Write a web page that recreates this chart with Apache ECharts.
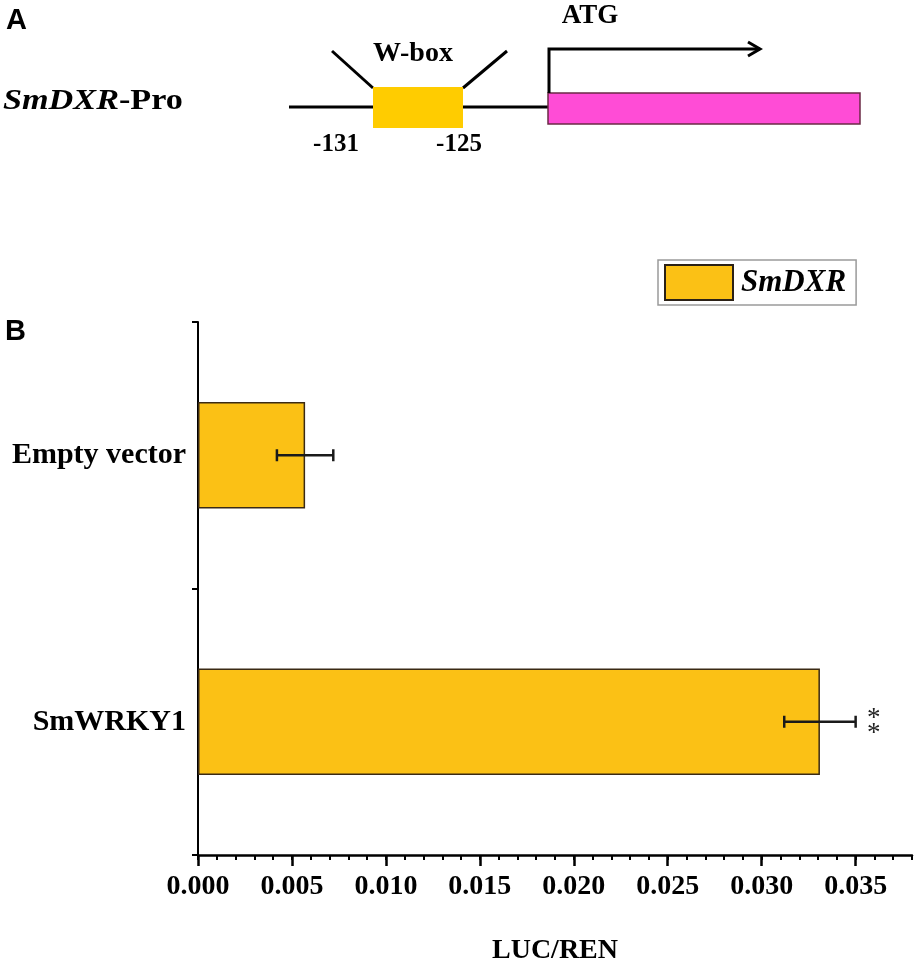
<!DOCTYPE html>
<html>
<head>
<meta charset="utf-8">
<script src="https://cdn.jsdelivr.net/npm/echarts@6/dist/echarts.min.js"></script>
<style>
  html, body { margin: 0; padding: 0; background: #fff; }
  #container { width: 919px; height: 970px; }
</style>
</head>
<body>
<div id="container"></div>
<script>
// data
var categories = ['Empty vector', 'SmWRKY1'];
var means = [0.0057, 0.0331];
var errors = [0.0015, 0.0019];
var signif = ['', '**'];
var xTicks = [0, 0.005, 0.010, 0.015, 0.020, 0.025, 0.030, 0.035];

var dom = document.getElementById('container');
var myChart = echarts.init(dom, null, { renderer: 'canvas' });

var serif = "'Liberation Serif', 'Times New Roman', serif";
var barColor = '#FBC115';

var errData = [];
for (var i = 0; i < categories.length; i++) {
    errData.push([i, means[i] - errors[i], means[i] + errors[i], signif[i]]);
}

function renderError(params, api) {
    var y = api.value(0);
    var lo = api.coord([api.value(1), y]);
    var hi = api.coord([api.value(2), y]);
    var cap = 6;
    var style = { stroke: '#1a1a1a', lineWidth: 2.5 };
    var children = [
        { type: 'line', shape: { x1: lo[0], y1: lo[1], x2: hi[0], y2: hi[1] }, style: style },
        { type: 'line', shape: { x1: lo[0], y1: lo[1] - cap, x2: lo[0], y2: lo[1] + cap }, style: style },
        { type: 'line', shape: { x1: hi[0], y1: hi[1] - cap, x2: hi[0], y2: hi[1] + cap }, style: style }
    ];
    var s = api.value(3);
    if (s) {
        children.push({
            type: 'text',
            x: hi[0] + 18,
            y: hi[1] + 5,
            style: {
                text: s.split('').join('\n'),
                font: "27px " + serif,
                fill: '#222',
                align: 'center',
                verticalAlign: 'middle',
                lineHeight: 15
            }
        });
    }
    return { type: 'group', children: children };
}

var option = {
    backgroundColor: '#ffffff',
    animation: false,
    grid: { left: 198, right: 7, top: 322, bottom: 102, containLabel: false },
    legend: {
        left: 658,
        top: 260,
        padding: [4, 10, 4, 6],
        borderColor: '#9a9a9a',
        borderWidth: 1.5,
        itemWidth: 68,
        itemHeight: 35,
        data: [{
            name: 'SmDXR',
            icon: 'rect',
            itemStyle: { color: barColor, borderColor: '#2b2116', borderWidth: 2 }
        }],
        textStyle: {
            fontFamily: serif,
            fontStyle: 'italic',
            fontWeight: 'bold',
            fontSize: 31,
            lineHeight: 35,
            color: '#000',
            padding: [0, 0, 0, 3]
        }
    },
    xAxis: [
        {
            type: 'value',
            min: 0,
            max: 0.038,
            position: 'bottom',
            splitLine: { show: false },
            axisLine: { show: true, lineStyle: { color: '#000', width: 2.5 } },
            axisTick: {
                show: true,
                length: 11,
                customValues: xTicks,
                lineStyle: { color: '#000', width: 2.5 }
            },
            axisLabel: {
                customValues: xTicks,
                formatter: function (v) { return v.toFixed(3); },
                fontFamily: serif,
                fontWeight: 'bold',
                fontSize: 28,
                color: '#000',
                margin: 18
            },
            name: 'LUC/REN',
            nameLocation: 'middle',
            nameGap: 82,
            nameTextStyle: {
                fontFamily: serif,
                fontWeight: 'bold',
                fontSize: 28,
                color: '#000'
            }
        },
        {
            type: 'value',
            min: 0,
            max: 0.038,
            interval: 0.001,
            position: 'bottom',
            splitLine: { show: false },
            axisLine: { show: false },
            axisTick: { show: true, length: 5, lineStyle: { color: '#000', width: 2 } },
            axisLabel: { show: false }
        }
    ],
    yAxis: {
        type: 'category',
        inverse: true,
        data: categories,
        axisLine: { show: true, lineStyle: { color: '#000', width: 2 } },
        axisTick: { show: true, length: 6, lineStyle: { color: '#000', width: 2 } },
        axisLabel: {
            fontFamily: serif,
            fontWeight: 'bold',
            fontSize: 30,
            color: '#000',
            margin: 12
        }
    },
    series: [
        {
            name: 'SmDXR',
            type: 'bar',
            barWidth: '40%',
            data: means,
            itemStyle: { color: barColor, borderColor: '#3b2a14', borderWidth: 1.5 }
        },
        {
            name: 'err',
            type: 'custom',
            renderItem: renderError,
            data: errData,
            encode: { x: [1, 2], y: 0 },
            z: 5
        }
    ],
    graphic: [
        { type: 'text', x: 6, y: 21, style: { text: 'A', font: "bold 29px 'Liberation Sans', Arial, sans-serif", fill: '#000', verticalAlign: 'middle' } },
        { type: 'text', x: 5, y: 332, style: { text: 'B', font: "bold 29px 'Liberation Sans', Arial, sans-serif", fill: '#000', verticalAlign: 'middle' } },
        {
            type: 'text', x: 3, y: 101, scaleX: 1.14,
            style: {
                text: '{i|SmDXR}{n|-Pro}',
                verticalAlign: 'middle',
                rich: {
                    i: { font: "italic bold 30px " + serif, fill: '#000' },
                    n: { font: "bold 30px " + serif, fill: '#000' }
                }
            }
        },
        { type: 'line', shape: { x1: 289, y1: 107, x2: 548, y2: 107 }, style: { stroke: '#000', lineWidth: 3 } },
        { type: 'line', shape: { x1: 332, y1: 51, x2: 373, y2: 88 }, style: { stroke: '#000', lineWidth: 3 } },
        { type: 'line', shape: { x1: 507, y1: 51, x2: 463, y2: 88 }, style: { stroke: '#000', lineWidth: 3 } },
        { type: 'rect', shape: { x: 373, y: 87, width: 90, height: 41 }, style: { fill: '#FFCC00' } },
        { type: 'rect', shape: { x: 548, y: 93, width: 312, height: 31 }, style: { fill: '#FF4CD6', stroke: '#6b2a45', lineWidth: 1.5 } },
        { type: 'polyline', shape: { points: [[549, 93], [549, 49], [760, 49]] }, style: { stroke: '#000', lineWidth: 3, fill: null } },
        { type: 'polyline', shape: { points: [[748, 42], [760, 49], [748, 56]] }, style: { stroke: '#000', lineWidth: 3, fill: null } },
        { type: 'text', x: 413, y: 54, style: { text: 'W-box', font: "bold 28px " + serif, fill: '#000', align: 'center', verticalAlign: 'middle' } },
        { type: 'text', x: 336, y: 145, style: { text: '-131', font: "bold 25px " + serif, fill: '#000', align: 'center', verticalAlign: 'middle' } },
        { type: 'text', x: 459, y: 145, style: { text: '-125', font: "bold 25px " + serif, fill: '#000', align: 'center', verticalAlign: 'middle' } },
        { type: 'text', x: 590, y: 16, style: { text: 'ATG', font: "bold 27px " + serif, fill: '#000', align: 'center', verticalAlign: 'middle' } }
    ]
};

if (option && typeof option === 'object') {
    myChart.setOption(option);
}

window.addEventListener('resize', myChart.resize);
</script>
</body>
</html>
